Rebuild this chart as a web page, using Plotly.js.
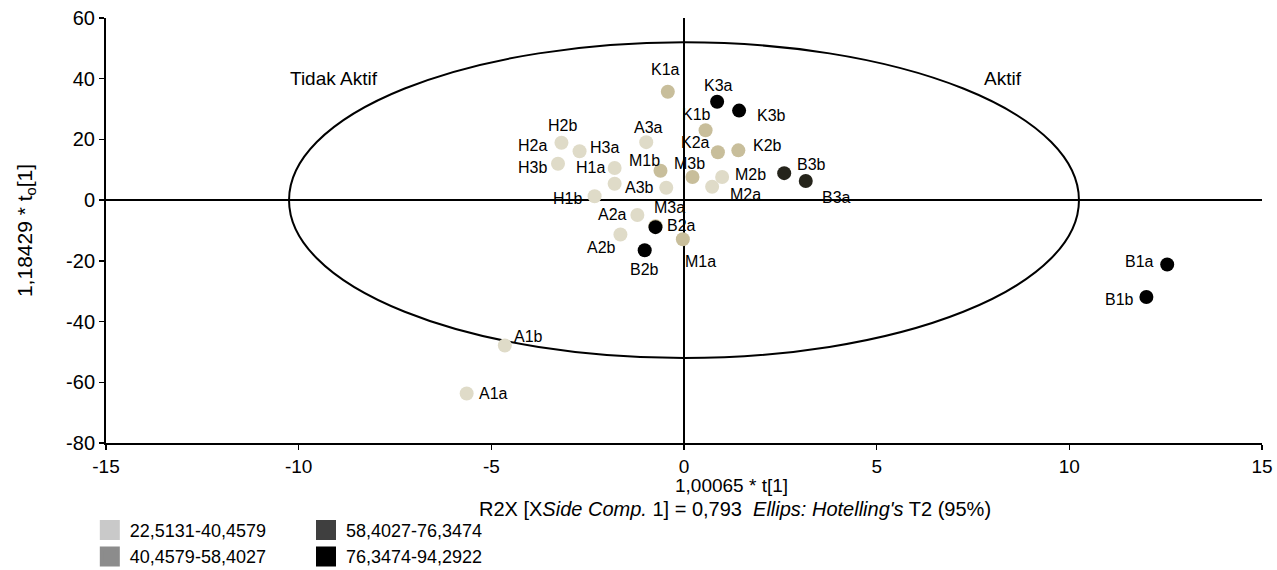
<!DOCTYPE html>
<html>
<head>
<meta charset="utf-8">
<script src="https://cdn.plot.ly/plotly-3.0.1.min.js"></script>
<style>html,body{margin:0;padding:0;background:#fff;}</style>
</head>
<body>
<div id="chart" style="width:1277px;height:570px;"></div>
<script>
// ---- data ----
const sampleNames = ["A1a","A1b","A2a","A2b","A3a","A3b",
                     "H1a","H1b","H2a","H2b","H3a","H3b",
                     "M2a","M2b",
                     "K1a","K1b","K2a","K2b","M1a","M1b","M3a","M3b",
                     "B3a","B3b",
                     "B1a","B1b","B2a","B2b","K3a","K3b"];
const tValues  = [-5.64,-4.65,-1.21,-1.65,-0.98,-0.46,
                  -1.80,-2.32,-3.18,-1.80,-2.71,-3.27,
                   0.73, 0.99,
                  -0.42, 0.56, 0.88, 1.41,-0.03,-0.61,-0.74, 0.22,
                   3.16, 2.60,
                  12.54,12.00,-0.74,-1.02, 0.86, 1.43];
const toValues = [-63.7,-47.9,-4.9,-11.3,19.1,4.1,
                  10.6,1.3,18.9,5.4,16.1,12.0,
                  4.4,7.6,
                  35.7,23.0,15.8,16.4,-12.9,9.7,-8.6,7.6,
                  6.3,8.9,
                  -21.2,-31.9,-8.9,-16.5,32.4,29.5];
// class index of each sample (0..3)
const sampleClass = [0,0,0,0,0,0, 0,0,0,0,0,0, 0,0,
                     1,1,1,1,1,1,1,1, 2,2, 3,3,3,3,3,3];
const classLabels = ["22,5131-40,4579","40,4579-58,4027","58,4027-76,3474","76,3474-94,2922"];
const xTicks = [-15,-10,-5,0,5,10,15];
const yTicks = [-80,-60,-40,-20,0,20,40,60];
const ellipseT = 10.25, ellipseTo = 52;  // Hotelling's T2 (95%) semi-axes

// ---- styles ----
const pointColors  = ["#dfdbc8","#c8be9b","#25241b","#000000"];
const legendColors = ["#c9c9c9","#8c8c8c","#3f3f3f","#000000"];
// label offsets (px) relative to each point: [dx, dy] (dy down)
const labelOffsets = [[27,0],[24,-9],[-25,-1],[-19,13],[2,-15],[-27,0],
                      [-24,0],[-27,2],[-29,3],[-52,-58],[25,-4],[-26,4],
                      [33,8],[28,-3],
                      [-2,-22],[-9,-16],[-22,-10],[29,-5],[18,22],[-16,-10],[14,-19],[-3,-14],
                      [31,16],[27,-9],
                      [-28,-3],[-27,3],[26,-2],[0,19],[1,-16],[32,5]];

const font = "'Liberation Sans', Arial, sans-serif";

const traces = [];
for (let c = 0; c < 4; c++) {
  const idx = sampleClass.map((k,i)=>k===c?i:-1).filter(i=>i>=0);
  traces.push({
    type: 'scatter', mode: 'markers',
    x: idx.map(i=>tValues[i]), y: idx.map(i=>toValues[i]),
    text: idx.map(i=>sampleNames[i]),
    marker: {size: 14, color: pointColors[c], line: {width: 0}},
    showlegend: false, hoverinfo: 'text+x+y'
  });
}
for (let c = 0; c < 4; c++) {
  traces.push({
    type: 'scatter', mode: 'markers', x: [null], y: [null],
    name: classLabels[c],
    marker: {symbol: 'square', size: 16, color: legendColors[c], line: {width: 4, color: legendColors[c]}},
    showlegend: true, legend: c < 2 ? 'legend' : 'legend2'
  });
}

const annotations = sampleNames.map((n,i)=>({
  x: tValues[i], y: toValues[i], text: n, showarrow: false,
  xshift: labelOffsets[i][0], yshift: -labelOffsets[i][1],
  font: {family: font, size: 16, color: '#000'}
}));
annotations.push({x: -9.08, y: 40, text: 'Tidak Aktif', showarrow: false, font: {family: font, size: 19, color: '#000'}});
annotations.push({x: 8.28, y: 40, text: 'Aktif', showarrow: false, font: {family: font, size: 19, color: '#000'}});
annotations.push({xref: 'paper', yref: 'paper', x: 0.541, y: -0.101, yanchor: 'middle',
  text: '1,00065 * t[1]', showarrow: false, font: {family: font, size: 19, color: '#000'}});
annotations.push({xref: 'paper', yref: 'paper', x: 0.544, y: -0.155, yanchor: 'middle',
  text: "R2X [X<i>Side Comp.</i> 1] = 0,793  <i>Ellips: Hotelling's</i> T2 (95%)", showarrow: false,
  font: {family: font, size: 20, color: '#000'}});

const axisCommon = {
  showgrid: false, zeroline: true, zerolinecolor: '#000', zerolinewidth: 2,
  showline: true, linecolor: '#000', linewidth: 2,
  ticks: 'outside', ticklen: 5, tickwidth: 1.5, tickcolor: '#000'
};

const layout = {
  width: 1277, height: 570,
  margin: {l: 106, r: 15, t: 18, b: 127, autoexpand: false},
  paper_bgcolor: '#fff', plot_bgcolor: '#fff',
  xaxis: Object.assign({}, axisCommon, {range: [-15, 15], tickvals: xTicks, ticktext: xTicks.map(String),
    tickfont: {family: font, size: 19, color: '#000'}}),
  yaxis: Object.assign({}, axisCommon, {range: [-80, 60], tickvals: yTicks, ticktext: yTicks.map(String),
    tickfont: {family: font, size: 20, color: '#000'},
    title: {text: '1,18429 * t<sub>o</sub>[1]', font: {family: font, size: 21, color: '#000'}, standoff: 28}}),
  shapes: [{type: 'circle', xref: 'x', yref: 'y', x0: -ellipseT, x1: ellipseT, y0: -ellipseTo, y1: ellipseTo,
            line: {color: '#000', width: 2}, layer: 'below'}],
  annotations: annotations,
  legend: {x: -0.014, y: -0.162, xanchor: 'left', yanchor: 'top', orientation: 'v',
           font: {family: font, size: 18, color: '#000'}, bgcolor: 'rgba(0,0,0,0)', tracegroupgap: 0},
  legend2: {x: 0.173, y: -0.162, xanchor: 'left', yanchor: 'top', orientation: 'v',
           font: {family: font, size: 18, color: '#000'}, bgcolor: 'rgba(0,0,0,0)', tracegroupgap: 0},
  font: {family: font, color: '#000'}
};

Plotly.newPlot('chart', traces, layout, {displayModeBar: false, staticPlot: true});
</script>
</body>
</html>
